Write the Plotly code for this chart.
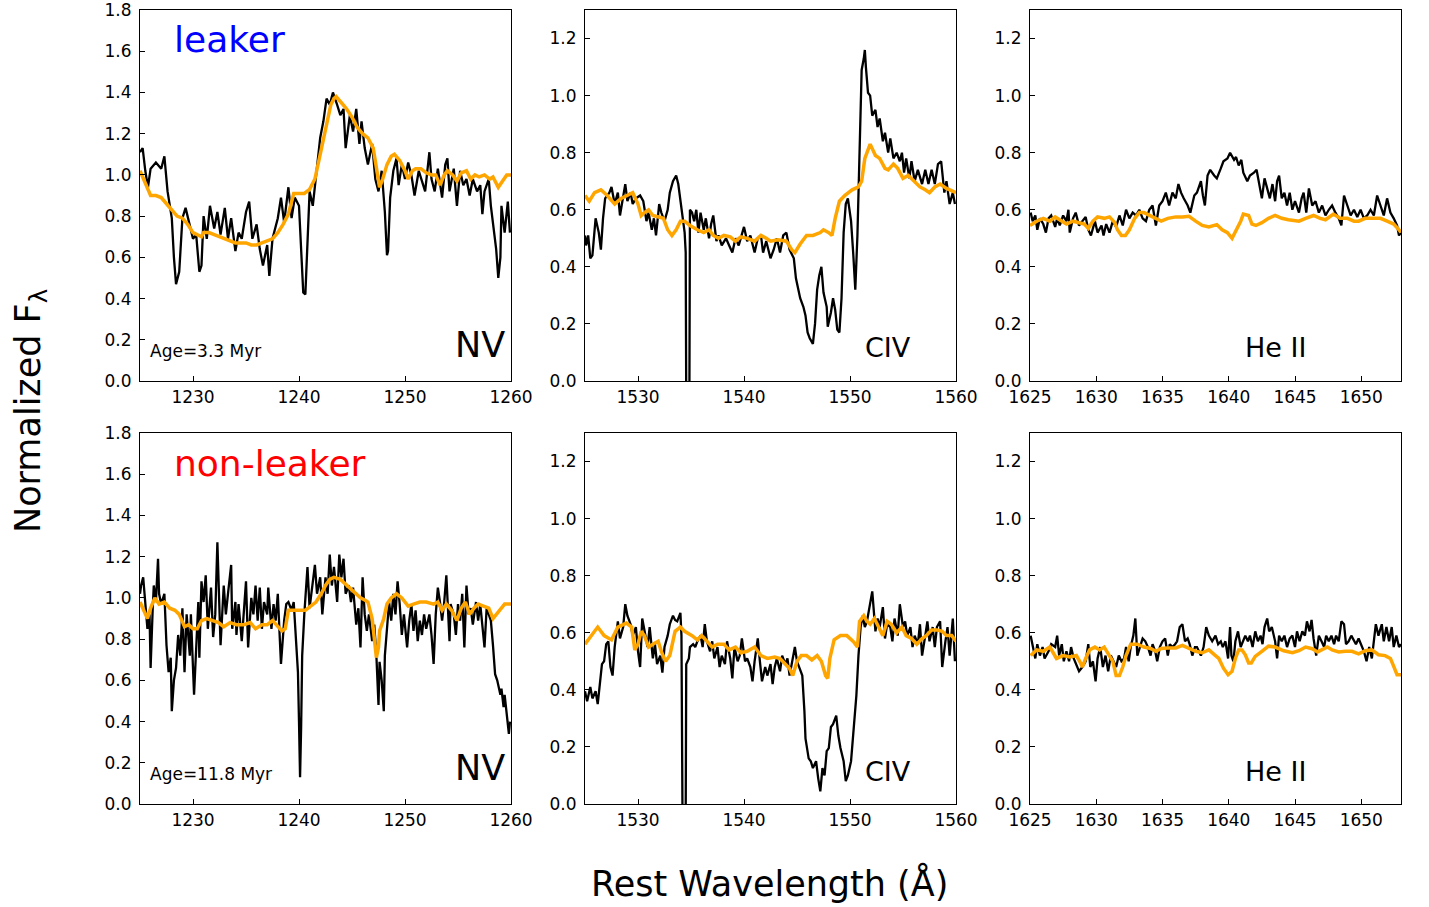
import plotly.graph_objects as go

# ---------------- DATA ----------------
# NV, leaker (observed)
nv_leak_wl = [1225.0,1225.25,1225.5,1225.75,1226.0,1226.5,1227.0,1227.3,1227.6,1228.0,
              1228.2,1228.4,1228.7,1229.0,1229.3,1229.6,1230.0,1230.3,1230.6,1230.8,
              1231.0,1231.3,1231.6,1232.0,1232.3,1232.6,1233.0,1233.3,1233.6,1234.0,
              1234.3,1234.6,1235.0,1235.3,1235.6,1236.0,1236.3,1236.6,1237.0,1237.2,
              1237.5,1238.0,1238.3,1238.6,1239.0,1239.3,1239.6,1240.0,1240.2,1240.4,
              1240.6,1240.8,1241.0,1241.3,1241.6,1242.0,1242.3,1242.6,1242.9,1243.2,
              1243.6,1243.9,1244.2,1244.4,1244.8,1245.1,1245.4,1245.7,1245.9,1246.2,
              1246.5,1246.9,1247.2,1247.5,1247.8,1248.1,1248.3,1248.4,1248.6,1248.9,
              1249.2,1249.4,1249.7,1250.0,1250.3,1250.6,1250.9,1251.3,1251.6,1251.9,
              1252.3,1252.5,1252.8,1253.1,1253.5,1253.8,1254.0,1254.2,1254.6,1254.9,
              1255.2,1255.5,1255.8,1256.1,1256.4,1256.8,1257.1,1257.3,1257.5,1257.9,
              1258.1,1258.3,1258.6,1258.8,1259.0,1259.1,1259.4,1259.7,1259.9]
nv_leak_flux = [1.11,1.13,1.02,0.94,1.03,1.06,1.03,1.09,0.92,0.79,
                0.60,0.47,0.53,0.79,0.84,0.77,0.69,0.71,0.53,0.56,
                0.80,0.69,0.85,0.74,0.82,0.71,0.84,0.69,0.79,0.63,
                0.72,0.69,0.82,0.87,0.69,0.76,0.64,0.56,0.66,0.51,
                0.69,0.79,0.89,0.77,0.94,0.79,0.89,0.85,0.60,0.43,
                0.42,0.69,0.92,0.85,0.98,1.18,1.26,1.37,1.34,1.40,
                1.34,1.29,1.32,1.13,1.29,1.21,1.32,1.15,1.26,1.13,
                1.05,1.15,0.98,0.92,1.02,0.82,0.61,0.63,0.89,1.02,
                1.08,0.95,1.05,0.98,1.06,1.00,0.90,1.02,0.97,0.92,
                1.11,0.98,0.92,1.03,0.89,1.05,1.08,0.92,1.03,0.85,
                1.02,0.95,0.98,0.90,0.98,0.92,0.95,0.81,0.92,0.98,
                0.85,0.76,0.64,0.50,0.60,0.85,0.72,0.87,0.72]
# NV, leaker (model)
nv_leak_mod_wl = [1225.0,1225.5,1226.0,1226.5,1227.0,1227.5,1228.0,1228.5,1229.0,1229.5,
                  1230.0,1230.5,1230.8,1231.0,1231.5,1232.0,1232.5,1233.0,1233.5,1234.0,
                  1234.5,1235.0,1235.5,1236.0,1236.5,1237.0,1237.5,1238.0,1238.5,1239.0,
                  1239.5,1240.0,1240.5,1241.0,1241.5,1242.0,1242.5,1243.0,1243.3,1243.5,
                  1244.0,1244.5,1245.0,1245.5,1246.0,1246.5,1247.0,1247.3,1247.6,1247.9,
                  1248.3,1248.7,1249.0,1249.5,1250.0,1250.3,1250.7,1251.0,1251.5,1252.0,
                  1252.5,1252.9,1253.3,1253.7,1254.0,1254.5,1254.9,1255.3,1255.8,1256.2,
                  1256.6,1257.0,1257.5,1258.0,1258.3,1258.8,1259.2,1259.6,1260.0]
nv_leak_mod_flux = [1.02,0.96,0.90,0.90,0.89,0.86,0.83,0.80,0.79,0.76,
                    0.72,0.71,0.70,0.72,0.72,0.71,0.70,0.69,0.68,0.67,
                    0.67,0.67,0.66,0.66,0.67,0.68,0.69,0.72,0.76,0.81,
                    0.91,0.91,0.91,0.93,0.98,1.10,1.23,1.34,1.37,1.38,
                    1.35,1.32,1.28,1.23,1.20,1.18,1.13,1.03,0.94,0.98,
                    1.05,1.09,1.10,1.07,1.02,0.98,1.02,1.03,1.03,1.01,
                    1.00,1.00,0.95,1.00,1.02,1.00,0.97,1.01,1.02,0.98,
                    1.00,0.99,1.00,0.98,0.99,0.94,0.97,1.00,1.00]

# CIV, leaker (observed)
civ_leak_wl = [1525.0,1525.1,1525.3,1525.5,1525.7,1525.9,1526.0,1526.3,1526.5,1526.7,
               1526.9,1527.3,1527.5,1527.8,1528.1,1528.3,1528.6,1528.8,1529.0,1529.3,
               1529.5,1529.8,1530.2,1530.5,1530.8,1531.0,1531.3,1531.5,1531.7,1532.0,
               1532.2,1532.5,1532.8,1533.0,1533.3,1533.6,1533.8,1534.0,1534.2,1534.4,
               1534.5,1534.55,1534.85,1534.9,1535.1,1535.3,1535.5,1535.7,1535.9,1536.2,
               1536.4,1536.7,1536.9,1537.1,1537.4,1537.6,1537.9,1538.3,1538.6,1538.9,
               1539.2,1539.5,1540.0,1540.3,1540.6,1541.0,1541.3,1541.6,1541.8,1542.1,
               1542.5,1542.8,1543.1,1543.4,1543.7,1544.0,1544.3,1544.7,1544.9,1545.1,
               1545.3,1545.6,1545.8,1546.0,1546.2,1546.5,1546.7,1546.9,1547.1,1547.3,
               1547.5,1547.8,1547.9,1548.2,1548.4,1548.6,1548.8,1549.0,1549.2,1549.4,
               1549.6,1549.8,1550.1,1550.3,1550.5,1550.7,1550.9,1551.1,1551.3,1551.4,
               1551.5,1551.7,1551.9,1552.1,1552.4,1552.6,1552.8,1553.1,1553.3,1553.6,
               1553.8,1554.1,1554.4,1554.7,1554.9,1555.1,1555.3,1555.6,1555.8,1556.1,
               1556.4,1556.8,1557.1,1557.4,1557.7,1558.0,1558.3,1558.6,1558.9,1559.1,
               1559.4,1559.7,1559.9]
civ_leak_flux = [0.51,0.475,0.51,0.43,0.44,0.52,0.57,0.52,0.46,0.57,
                 0.64,0.66,0.68,0.62,0.66,0.58,0.65,0.69,0.63,0.66,
                 0.62,0.64,0.65,0.63,0.56,0.59,0.53,0.57,0.51,0.62,
                 0.59,0.56,0.60,0.66,0.70,0.72,0.69,0.63,0.56,0.52,
                 0.45,-0.05,-0.05,0.60,0.59,0.56,0.60,0.52,0.59,0.53,
                 0.57,0.50,0.55,0.58,0.49,0.51,0.475,0.50,0.475,0.45,
                 0.50,0.475,0.54,0.49,0.51,0.45,0.50,0.51,0.45,0.49,
                 0.43,0.46,0.50,0.45,0.51,0.52,0.46,0.43,0.36,0.32,
                 0.29,0.26,0.23,0.17,0.15,0.13,0.20,0.32,0.37,0.40,
                 0.31,0.26,0.19,0.24,0.29,0.25,0.18,0.17,0.29,0.52,
                 0.62,0.64,0.56,0.45,0.32,0.51,0.83,1.09,1.13,1.16,
                 1.10,1.01,1.00,0.93,0.95,0.89,0.92,0.84,0.87,0.80,
                 0.85,0.78,0.80,0.77,0.80,0.73,0.78,0.71,0.77,0.70,
                 0.74,0.69,0.74,0.69,0.74,0.69,0.76,0.77,0.66,0.70,
                 0.62,0.66,0.62]
# CIV, leaker (model)
civ_leak_mod_wl = [1525.0,1525.4,1525.9,1526.5,1527.1,1527.8,1528.4,1529.0,1529.5,1530.0,
                   1530.3,1530.6,1531.0,1531.4,1531.9,1532.4,1532.8,1533.2,1533.6,1534.0,
                   1534.4,1534.9,1535.6,1536.2,1536.7,1537.1,1537.6,1538.1,1538.7,1539.2,
                   1539.7,1540.3,1541.0,1541.6,1542.1,1542.5,1543.2,1544.0,1544.5,1544.8,
                   1545.3,1545.9,1546.5,1547.2,1547.5,1548.0,1548.3,1548.6,1549.0,1549.5,
                   1550.2,1550.8,1551.1,1551.4,1551.9,1552.4,1552.8,1553.3,1553.6,1554.1,
                   1554.5,1555.0,1555.5,1556.0,1556.6,1557.1,1557.5,1558.0,1558.5,1559.1,
                   1560.0]
civ_leak_mod_flux = [0.65,0.63,0.66,0.67,0.65,0.62,0.64,0.65,0.66,0.62,
                     0.58,0.59,0.60,0.58,0.575,0.57,0.53,0.51,0.53,0.56,
                     0.56,0.545,0.53,0.52,0.53,0.51,0.50,0.51,0.505,0.49,
                     0.505,0.50,0.49,0.51,0.50,0.49,0.495,0.49,0.46,0.45,
                     0.48,0.51,0.51,0.52,0.53,0.52,0.51,0.57,0.63,0.65,
                     0.67,0.68,0.70,0.78,0.83,0.79,0.78,0.745,0.74,0.76,
                     0.745,0.71,0.72,0.70,0.68,0.67,0.66,0.68,0.69,0.675,
                     0.66]

# He II, leaker (observed)
heii_leak_wl = [1625.05,1625.2,1625.4,1625.55,1625.75,1626.0,1626.2,1626.4,1626.6,1626.9,
                1627.05,1627.25,1627.5,1627.75,1627.9,1628.0,1628.25,1628.45,1628.7,1628.95,
                1629.2,1629.4,1629.6,1629.9,1630.1,1630.4,1630.55,1630.75,1631.0,1631.25,
                1631.5,1631.75,1632.0,1632.25,1632.5,1632.75,1633.0,1633.25,1633.5,1633.75,
                1634.0,1634.25,1634.5,1634.75,1635.0,1635.25,1635.5,1635.75,1636.0,1636.2,
                1636.4,1636.6,1636.9,1637.1,1637.4,1637.6,1637.9,1638.05,1638.2,1638.4,
                1638.6,1638.9,1639.1,1639.4,1639.6,1639.9,1640.1,1640.4,1640.55,1640.75,
                1640.95,1641.1,1641.4,1641.6,1641.9,1642.1,1642.3,1642.5,1642.7,1642.9,
                1643.1,1643.3,1643.5,1643.65,1643.8,1644.0,1644.2,1644.4,1644.6,1644.8,
                1645.0,1645.3,1645.5,1645.65,1645.85,1646.05,1646.3,1646.55,1646.8,1647.05,
                1647.3,1647.55,1647.8,1648.05,1648.3,1648.5,1648.7,1648.95,1649.2,1649.45,
                1649.7,1649.95,1650.2,1650.45,1650.7,1650.95,1651.2,1651.45,1651.7,1651.95,
                1652.2,1652.45,1652.7,1652.85,1653.0]
heii_leak_flux = [0.59,0.56,0.58,0.53,0.57,0.55,0.52,0.57,0.58,0.54,
                  0.57,0.545,0.58,0.56,0.60,0.52,0.57,0.59,0.545,0.56,
                  0.575,0.53,0.51,0.56,0.52,0.545,0.51,0.55,0.52,0.56,
                  0.54,0.58,0.545,0.60,0.57,0.59,0.58,0.60,0.57,0.56,
                  0.60,0.615,0.545,0.615,0.63,0.66,0.615,0.66,0.64,0.69,
                  0.66,0.64,0.615,0.59,0.65,0.66,0.70,0.65,0.615,0.72,
                  0.74,0.72,0.71,0.745,0.77,0.78,0.80,0.775,0.785,0.755,
                  0.775,0.73,0.70,0.72,0.73,0.74,0.69,0.64,0.71,0.675,
                  0.64,0.69,0.63,0.70,0.72,0.64,0.66,0.615,0.66,0.60,
                  0.63,0.59,0.64,0.66,0.59,0.675,0.615,0.63,0.59,0.615,
                  0.58,0.60,0.615,0.59,0.57,0.545,0.65,0.615,0.58,0.60,
                  0.575,0.60,0.57,0.58,0.60,0.58,0.65,0.615,0.58,0.64,
                  0.59,0.57,0.545,0.51,0.52]
# He II, leaker (model)
heii_leak_mod_wl = [1625.0,1625.5,1626.0,1626.5,1626.9,1627.4,1627.75,1628.25,1628.75,1629.1,
                    1629.4,1629.75,1630.1,1630.6,1631.0,1631.4,1631.6,1631.9,1632.2,1632.5,
                    1632.9,1633.25,1633.6,1634.0,1634.5,1634.9,1635.4,1636.0,1636.5,1637.0,
                    1637.5,1638.0,1638.5,1639.1,1639.5,1639.9,1640.25,1640.6,1640.9,1641.1,
                    1641.5,1641.75,1642.05,1642.5,1643.0,1643.5,1644.0,1644.5,1645.3,1645.8,
                    1646.4,1646.9,1647.3,1647.9,1648.4,1648.95,1649.45,1649.8,1650.3,1650.8,
                    1651.45,1651.95,1652.45,1652.85,1653.0]
heii_leak_mod_flux = [0.545,0.56,0.57,0.56,0.575,0.56,0.55,0.56,0.555,0.55,
                      0.535,0.56,0.575,0.57,0.575,0.555,0.53,0.51,0.51,0.53,
                      0.57,0.59,0.59,0.58,0.57,0.56,0.57,0.575,0.575,0.577,
                      0.56,0.545,0.54,0.548,0.53,0.52,0.50,0.53,0.56,0.585,
                      0.58,0.55,0.545,0.555,0.57,0.58,0.57,0.565,0.56,0.57,
                      0.58,0.57,0.565,0.585,0.57,0.57,0.56,0.56,0.57,0.57,
                      0.57,0.56,0.55,0.53,0.52]

# NV, non-leaker (observed)
nv_non_wl = [1225.0,1225.1,1225.3,1225.5,1225.7,1225.9,1226.0,1226.2,1226.3,1226.5,
             1226.7,1226.8,1227.0,1227.3,1227.5,1227.7,1227.9,1228.0,1228.2,1228.4,
             1228.6,1228.8,1229.0,1229.2,1229.4,1229.7,1229.8,1230.1,1230.3,1230.5,
             1230.6,1230.8,1231.0,1231.2,1231.4,1231.7,1231.9,1232.1,1232.3,1232.5,
             1232.6,1232.9,1233.1,1233.3,1233.6,1233.7,1234.0,1234.1,1234.3,1234.6,
             1234.8,1235.0,1235.2,1235.5,1235.7,1235.9,1236.1,1236.3,1236.5,1236.7,
             1237.0,1237.1,1237.4,1237.6,1237.8,1238.0,1238.2,1238.3,1238.6,1238.8,
             1239.0,1239.3,1239.5,1239.7,1239.9,1240.0,1240.1,1240.2,1240.3,1240.5,
             1240.8,1241.0,1241.3,1241.5,1241.7,1242.0,1242.2,1242.5,1242.7,1242.9,
             1243.1,1243.3,1243.6,1243.8,1244.0,1244.2,1244.4,1244.7,1244.9,1245.1,
             1245.4,1245.6,1245.8,1246.0,1246.2,1246.4,1246.6,1246.9,1247.1,1247.3,
             1247.5,1247.6,1247.8,1248.0,1248.1,1248.3,1248.5,1248.7,1248.9,1249.1,
             1249.3,1249.5,1249.7,1249.9,1250.2,1250.4,1250.6,1250.8,1251.0,1251.2,
             1251.4,1251.6,1251.8,1252.0,1252.3,1252.5,1252.7,1252.9,1253.1,1253.3,
             1253.5,1253.7,1253.9,1254.2,1254.3,1254.6,1254.8,1255.0,1255.2,1255.4,
             1255.6,1255.8,1256.0,1256.2,1256.4,1256.7,1256.9,1257.1,1257.3,1257.5,
             1257.7,1257.9,1258.1,1258.3,1258.5,1258.7,1259.0,1259.1,1259.3,1259.4,
             1259.6,1259.8,1259.9]
nv_non_flux = [1.02,1.06,1.10,0.98,0.85,0.92,0.66,0.95,1.06,0.98,
               1.19,1.02,0.97,1.02,0.77,0.64,0.71,0.45,0.60,0.66,
               0.82,0.72,0.95,0.64,0.92,0.72,0.92,0.53,0.79,0.98,
               0.71,1.08,0.98,1.11,0.85,1.05,0.81,0.92,1.27,0.92,
               0.77,1.06,0.92,1.02,1.16,0.85,0.98,0.82,0.97,0.79,
               0.92,1.08,0.76,1.00,0.92,1.06,0.89,1.05,0.85,0.98,
               0.92,1.05,0.85,0.97,0.89,1.02,0.79,0.68,0.89,0.97,
               0.98,0.94,0.98,0.79,0.64,0.40,0.13,0.37,0.72,0.92,
               1.15,0.95,1.08,1.16,1.02,1.10,0.92,1.10,1.02,1.21,
               1.06,1.15,0.98,1.21,1.10,1.19,1.02,1.06,0.98,1.05,
               0.87,0.95,0.76,1.10,0.92,0.84,0.92,0.79,0.87,0.72,
               0.48,0.69,0.60,0.45,0.72,0.85,0.98,0.89,1.02,0.92,
               1.08,0.97,0.82,0.92,0.76,0.89,0.97,0.84,0.94,0.79,
               0.89,0.82,0.92,0.85,0.92,0.82,0.68,0.92,1.05,0.98,
               0.89,0.98,1.11,0.79,0.97,0.92,0.82,0.97,0.89,1.02,
               0.76,1.06,0.92,0.95,0.87,0.98,0.89,0.97,0.87,0.76,
               0.95,0.92,0.89,0.77,0.63,0.60,0.53,0.56,0.47,0.53,
               0.42,0.34,0.40]
# NV, non-leaker (model)
nv_non_mod_wl = [1225.0,1225.4,1225.7,1226.0,1226.4,1226.8,1227.3,1227.8,1228.3,1228.7,
                 1229.2,1229.6,1230.0,1230.4,1230.8,1231.3,1231.9,1232.4,1232.9,1233.5,
                 1234.1,1234.8,1235.4,1235.9,1236.5,1237.0,1237.5,1237.9,1238.4,1238.7,
                 1239.0,1239.4,1240.0,1240.6,1241.1,1241.6,1242.1,1242.5,1242.9,1243.3,
                 1243.9,1244.5,1245.1,1245.8,1246.2,1246.5,1246.9,1247.1,1247.3,1247.5,
                 1247.6,1248.0,1248.3,1248.7,1249.2,1249.7,1250.0,1250.3,1250.8,1251.4,
                 1252.0,1252.7,1253.1,1253.5,1253.9,1254.4,1254.9,1255.3,1255.7,1256.1,
                 1256.5,1256.9,1257.4,1257.9,1258.3,1258.6,1259.0,1259.4,1259.9,1260.0]
nv_non_mod_flux = [0.98,0.93,0.90,0.95,1.00,0.97,0.98,0.95,0.94,0.92,
                   0.86,0.87,0.85,0.85,0.89,0.90,0.89,0.88,0.86,0.88,
                   0.87,0.87,0.88,0.85,0.87,0.87,0.89,0.87,0.84,0.85,
                   0.94,0.94,0.94,0.94,0.96,0.98,1.02,1.06,1.09,1.10,
                   1.09,1.06,1.03,1.00,0.99,0.98,0.90,0.82,0.71,0.76,
                   0.84,0.90,0.97,1.00,1.02,1.00,0.98,0.96,0.97,0.98,
                   0.98,0.97,0.98,0.94,0.97,0.94,0.89,0.95,0.98,0.92,
                   0.95,0.97,0.96,0.95,0.90,0.92,0.95,0.97,0.97,0.97]

# CIV, non-leaker (observed)
civ_non_wl = [1525.0,1525.2,1525.5,1525.7,1526.0,1526.2,1526.4,1526.6,1526.8,1527.0,
              1527.2,1527.4,1527.6,1527.8,1528.1,1528.3,1528.6,1528.8,1529.0,1529.3,
              1529.5,1529.8,1530.0,1530.2,1530.4,1530.6,1530.9,1531.1,1531.4,1531.6,
              1531.8,1532.1,1532.3,1532.5,1532.8,1533.0,1533.3,1533.5,1533.7,1534.0,
              1534.1,1534.2,1534.5,1534.55,1534.8,1534.9,1535.2,1535.4,1535.6,1535.9,
              1536.1,1536.3,1536.5,1536.8,1537.0,1537.2,1537.5,1537.7,1537.9,1538.2,
              1538.4,1538.7,1538.9,1539.1,1539.4,1539.6,1539.8,1540.1,1540.3,1540.6,
              1540.8,1541.0,1541.3,1541.5,1541.7,1542.0,1542.2,1542.5,1542.7,1542.9,
              1543.1,1543.4,1543.6,1543.9,1544.1,1544.3,1544.6,1544.8,1545.0,1545.3,
              1545.5,1545.7,1545.8,1546.1,1546.3,1546.5,1546.8,1547.0,1547.2,1547.4,
              1547.6,1547.8,1548.0,1548.2,1548.4,1548.7,1548.9,1549.1,1549.4,1549.6,
              1549.8,1550.1,1550.3,1550.6,1550.8,1551.0,1551.2,1551.4,1551.6,1551.9,
              1552.1,1552.4,1552.6,1552.8,1553.1,1553.3,1553.5,1553.8,1554.0,1554.2,
              1554.5,1554.7,1555.0,1555.2,1555.4,1555.7,1555.9,1556.1,1556.4,1556.6,
              1556.8,1557.1,1557.3,1557.5,1557.8,1558.0,1558.2,1558.5,1558.7,1559.0,
              1559.2,1559.4,1559.7,1559.9]
civ_non_flux = [0.395,0.36,0.41,0.37,0.395,0.35,0.42,0.49,0.50,0.56,
                0.57,0.48,0.45,0.55,0.64,0.58,0.62,0.70,0.66,0.63,
                0.59,0.62,0.535,0.48,0.65,0.605,0.55,0.62,0.51,0.56,
                0.49,0.52,0.46,0.55,0.59,0.63,0.66,0.645,0.64,0.67,
                0.59,-0.05,-0.05,0.49,0.51,0.55,0.56,0.55,0.57,0.59,
                0.55,0.63,0.57,0.535,0.57,0.51,0.55,0.48,0.52,0.49,
                0.57,0.51,0.44,0.55,0.50,0.52,0.58,0.50,0.51,0.48,
                0.43,0.50,0.58,0.50,0.43,0.48,0.45,0.49,0.42,0.48,
                0.51,0.465,0.52,0.49,0.51,0.45,0.52,0.55,0.50,0.465,
                0.45,0.325,0.23,0.16,0.15,0.126,0.15,0.09,0.044,0.126,
                0.10,0.185,0.196,0.27,0.28,0.31,0.24,0.196,0.15,0.08,
                0.10,0.15,0.24,0.38,0.52,0.62,0.66,0.62,0.64,0.71,
                0.745,0.605,0.65,0.62,0.69,0.58,0.63,0.62,0.57,0.65,
                0.59,0.70,0.62,0.64,0.59,0.62,0.55,0.59,0.56,0.63,
                0.52,0.59,0.64,0.57,0.62,0.55,0.62,0.64,0.48,0.57,
                0.62,0.52,0.65,0.50]
# CIV, non-leaker (model)
civ_non_mod_wl = [1525.0,1525.6,1526.2,1526.8,1527.5,1528.1,1528.9,1529.4,1529.7,1530.0,
                  1530.3,1530.6,1531.0,1531.4,1531.9,1532.2,1532.6,1533.0,1533.5,1534.0,
                  1534.4,1535.1,1535.6,1536.0,1536.5,1537.0,1537.5,1538.1,1538.6,1539.2,
                  1539.7,1540.3,1541.0,1541.6,1542.2,1542.9,1543.4,1543.9,1544.3,1544.6,
                  1545.0,1545.4,1545.9,1546.4,1546.9,1547.3,1547.7,1547.9,1548.1,1548.5,
                  1549.1,1549.7,1550.3,1550.7,1550.9,1551.3,1551.6,1551.9,1552.3,1552.7,
                  1553.1,1553.5,1553.9,1554.4,1554.9,1555.3,1555.8,1556.3,1556.8,1557.2,
                  1557.7,1558.2,1558.7,1559.1,1559.6,1560.0]
civ_non_mod_flux = [0.56,0.59,0.62,0.59,0.575,0.62,0.634,0.62,0.54,0.56,
                    0.605,0.59,0.55,0.56,0.57,0.535,0.50,0.52,0.605,0.62,
                    0.605,0.59,0.575,0.59,0.57,0.55,0.56,0.56,0.54,0.55,
                    0.53,0.535,0.55,0.52,0.51,0.515,0.51,0.49,0.475,0.45,
                    0.50,0.52,0.52,0.505,0.52,0.50,0.45,0.44,0.51,0.575,
                    0.59,0.59,0.57,0.55,0.64,0.66,0.64,0.63,0.65,0.62,
                    0.59,0.64,0.63,0.60,0.62,0.59,0.58,0.56,0.58,0.59,
                    0.61,0.61,0.605,0.59,0.59,0.57]

# He II, non-leaker (observed)
heii_non_wl = [1625.05,1625.2,1625.4,1625.55,1625.75,1625.95,1626.1,1626.4,1626.6,1626.9,
               1627.05,1627.2,1627.4,1627.55,1627.75,1627.95,1628.1,1628.3,1628.5,1628.7,
               1628.95,1629.2,1629.4,1629.55,1629.75,1629.95,1630.1,1630.3,1630.5,1630.7,
               1630.9,1631.1,1631.3,1631.5,1631.7,1631.9,1632.1,1632.25,1632.45,1632.6,
               1632.8,1632.95,1633.1,1633.3,1633.5,1633.7,1633.9,1634.1,1634.25,1634.45,
               1634.6,1634.8,1635.0,1635.2,1635.4,1635.55,1635.75,1635.95,1636.1,1636.3,
               1636.5,1636.7,1636.9,1637.05,1637.25,1637.45,1637.6,1637.9,1638.1,1638.3,
               1638.5,1638.75,1639.0,1639.2,1639.4,1639.55,1639.75,1639.95,1640.1,1640.2,
               1640.35,1640.5,1640.7,1640.9,1641.05,1641.25,1641.45,1641.6,1641.8,1642.0,
               1642.2,1642.4,1642.55,1642.7,1642.9,1643.05,1643.25,1643.5,1643.65,1643.8,
               1644.0,1644.2,1644.4,1644.6,1644.8,1645.0,1645.15,1645.35,1645.55,1645.75,
               1645.9,1646.1,1646.25,1646.4,1646.6,1646.8,1647.0,1647.2,1647.35,1647.55,
               1647.75,1647.95,1648.1,1648.3,1648.5,1648.7,1648.85,1649.05,1649.25,1649.45,
               1649.6,1649.8,1650.0,1650.2,1650.4,1650.6,1650.8,1650.95,1651.1,1651.3,
               1651.55,1651.7,1651.9,1652.1,1652.3,1652.45,1652.65,1652.85,1653.0]
heii_non_flux = [0.59,0.55,0.51,0.56,0.52,0.55,0.51,0.535,0.56,0.55,
                 0.59,0.52,0.56,0.50,0.535,0.50,0.55,0.51,0.49,0.465,
                 0.48,0.50,0.56,0.48,0.50,0.43,0.51,0.55,0.48,0.52,
                 0.465,0.52,0.50,0.48,0.52,0.50,0.51,0.55,0.50,0.55,
                 0.59,0.65,0.52,0.55,0.58,0.57,0.55,0.52,0.56,0.535,
                 0.50,0.55,0.57,0.58,0.52,0.56,0.55,0.56,0.57,0.62,
                 0.63,0.57,0.58,0.56,0.52,0.55,0.55,0.52,0.55,0.62,
                 0.59,0.57,0.59,0.56,0.57,0.55,0.57,0.51,0.62,0.52,
                 0.50,0.57,0.605,0.55,0.57,0.59,0.57,0.59,0.55,0.605,
                 0.57,0.59,0.56,0.62,0.65,0.605,0.62,0.57,0.51,0.59,
                 0.57,0.59,0.55,0.58,0.59,0.55,0.605,0.57,0.605,0.59,
                 0.64,0.605,0.645,0.58,0.52,0.59,0.57,0.55,0.59,0.57,
                 0.59,0.56,0.59,0.57,0.64,0.63,0.56,0.57,0.59,0.57,
                 0.56,0.58,0.56,0.535,0.50,0.55,0.51,0.58,0.63,0.59,
                 0.63,0.57,0.62,0.57,0.62,0.55,0.59,0.55,0.56]
# He II, non-leaker (model)
heii_non_mod_wl = [1625.05,1625.5,1626.0,1626.5,1627.0,1627.5,1628.0,1628.5,1628.75,1628.95,
                   1629.2,1629.5,1629.9,1630.25,1630.6,1631.0,1631.25,1631.5,1631.75,1632.0,
                   1632.25,1632.6,1633.1,1633.6,1634.1,1634.5,1634.9,1635.4,1636.0,1636.5,
                   1637.0,1637.5,1638.0,1638.5,1639.0,1639.25,1639.6,1639.95,1640.25,1640.5,
                   1640.75,1641.0,1641.25,1641.5,1641.7,1642.0,1642.5,1643.0,1643.5,1644.15,
                   1644.8,1645.3,1645.8,1646.3,1646.7,1647.05,1647.45,1647.8,1648.3,1648.8,
                   1649.3,1649.8,1650.3,1650.8,1651.3,1651.8,1652.2,1652.45,1652.7,1653.0]
heii_non_mod_flux = [0.52,0.54,0.535,0.55,0.51,0.52,0.515,0.52,0.50,0.48,
                     0.51,0.54,0.55,0.54,0.55,0.52,0.50,0.45,0.45,0.48,
                     0.52,0.56,0.56,0.55,0.545,0.535,0.545,0.547,0.547,0.556,
                     0.547,0.535,0.53,0.54,0.52,0.51,0.476,0.453,0.465,0.51,
                     0.54,0.54,0.523,0.494,0.494,0.517,0.535,0.553,0.55,0.537,
                     0.53,0.537,0.55,0.544,0.533,0.54,0.55,0.54,0.533,0.535,
                     0.535,0.526,0.537,0.54,0.523,0.52,0.51,0.482,0.453,0.453]

# Axis settings
x_ranges = [[1225, 1260], [1525, 1560], [1625, 1653]]
x_ticks = [[1230, 1240, 1250, 1260], [1530, 1540, 1550, 1560],
           [1625, 1630, 1635, 1640, 1645, 1650]]
y_ranges = [[0, 1.8], [0, 1.3], [0, 1.3]]
line_labels = ["NV", "CIV", "He II"]
row_labels = ["leaker", "non-leaker"]
row_colors = ["#0000FF", "#FF0000"]
ages = ["Age=3.3 Myr", "Age=11.8 Myr"]

# ---------------- FIGURE ----------------
W, H = 1429, 907
col_px = [(140, 511), (585, 956), (1030, 1401)]
row_px = [(10, 381), (433, 804)]
FONT = "DejaVu Sans"

panels = [
    (nv_leak_wl, nv_leak_flux, nv_leak_mod_wl, nv_leak_mod_flux),
    (civ_leak_wl, civ_leak_flux, civ_leak_mod_wl, civ_leak_mod_flux),
    (heii_leak_wl, heii_leak_flux, heii_leak_mod_wl, heii_leak_mod_flux),
    (nv_non_wl, nv_non_flux, nv_non_mod_wl, nv_non_mod_flux),
    (civ_non_wl, civ_non_flux, civ_non_mod_wl, civ_non_mod_flux),
    (heii_non_wl, heii_non_flux, heii_non_mod_wl, heii_non_mod_flux),
]

fig = go.Figure()
layout = dict(
    width=W, height=H, margin=dict(l=0, r=0, t=0, b=0, autoexpand=False),
    paper_bgcolor="white", plot_bgcolor="white", showlegend=False,
    font=dict(family=FONT, color="black"),
)

for i, (owl, ofl, mwl, mfl) in enumerate(panels):
    r, c = divmod(i, 3)
    n = i + 1
    xa = "x" if n == 1 else f"x{n}"
    ya = "y" if n == 1 else f"y{n}"
    fig.add_trace(go.Scatter(x=owl, y=ofl, mode="lines", xaxis=xa, yaxis=ya,
                             line=dict(color="black", width=2.3)))
    fig.add_trace(go.Scatter(x=mwl, y=mfl, mode="lines", xaxis=xa, yaxis=ya,
                             line=dict(color="#FFA500", width=3.5)))
    x0, x1 = col_px[c]
    yt, yb = row_px[r]
    common = dict(showline=True, linecolor="black", linewidth=1.2, mirror=True,
                  ticks="inside", ticklen=5, tickwidth=1.2, tickcolor="black",
                  showgrid=False, zeroline=False, automargin=False,
                  ticklabeloverflow="allow",
                  tickfont=dict(family=FONT, size=17, color="black"))
    layout["xaxis" if n == 1 else f"xaxis{n}"] = dict(
        domain=[x0 / W, x1 / W], anchor=ya, range=x_ranges[c],
        tickmode="array", tickvals=x_ticks[c], **common)
    layout["yaxis" if n == 1 else f"yaxis{n}"] = dict(
        domain=[1 - yb / H, 1 - yt / H], anchor=xa, range=y_ranges[c],
        tickmode="linear", tick0=0, dtick=0.2, tickformat=".1f",
        ticklabelstandoff=4, **common)

ann = []
for r in range(2):
    yt, yb = row_px[r]
    ann.append(dict(x=172 / W, y=1 - (yt + 30) / H, xref="paper", yref="paper",
                    text=row_labels[r], showarrow=False, xanchor="left", yanchor="middle",
                    font=dict(family=FONT, size=36, color=row_colors[r])))
    ann.append(dict(x=148 / W, y=1 - (yb - 30) / H, xref="paper", yref="paper",
                    text=ages[r], showarrow=False, xanchor="left", yanchor="middle",
                    font=dict(family=FONT, size=17, color="black")))
    ann.append(dict(x=507 / W, y=1 - (yb - 36) / H, xref="paper", yref="paper",
                    text=line_labels[0], showarrow=False, xanchor="right", yanchor="middle",
                    font=dict(family=FONT, size=35, color="black")))
    ann.append(dict(x=888 / W, y=1 - (yb - 33) / H, xref="paper", yref="paper",
                    text=line_labels[1], showarrow=False, xanchor="center", yanchor="middle",
                    font=dict(family=FONT, size=27, color="black")))
    ann.append(dict(x=1275 / W, y=1 - (yb - 33) / H, xref="paper", yref="paper",
                    text=line_labels[2], showarrow=False, xanchor="center", yanchor="middle",
                    font=dict(family=FONT, size=27, color="black")))

ann.append(dict(x=770 / W, y=1 - 883 / H, xref="paper", yref="paper",
                text="Rest Wavelength (Å)", showarrow=False, xanchor="center", yanchor="middle",
                font=dict(family=FONT, size=35, color="black")))
ann.append(dict(x=30 / W, y=1 - 411 / H, xref="paper", yref="paper",
                text="Normalized F<sub>λ</sub>", showarrow=False, textangle=-90,
                xanchor="center", yanchor="middle",
                font=dict(family=FONT, size=35, color="black")))
layout["annotations"] = ann
fig.update_layout(**layout)
fig.write_html("out.html", config={"displayModeBar": False},
               post_script="document.body.style.margin='0px';")
